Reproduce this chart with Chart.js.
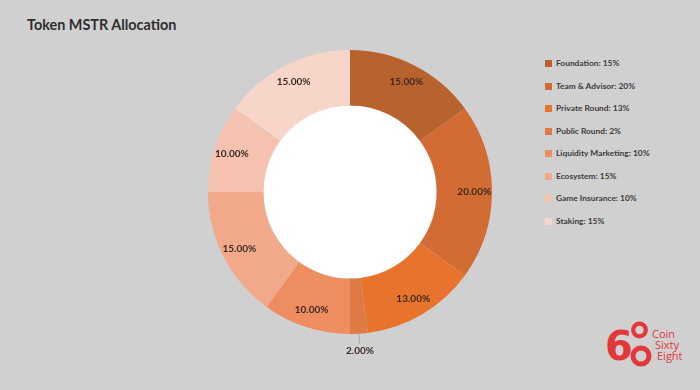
<!DOCTYPE html>
<html>
<head>
<meta charset="utf-8">
<script src="https://cdn.jsdelivr.net/npm/chart.js@4"></script>
<style>
  html, body { margin: 0; padding: 0; }
  body { width: 700px; height: 390px; background: #d1d0d1; position: relative; overflow: hidden; font-family: Lato, "Open Sans", sans-serif; }
  #title { position: absolute; left: 27px; top: 16px; font-size: 14.4px; font-weight: bold; color: #2e2e30; }
  #wrap { position: absolute; left: 180px; top: 22px; width: 340px; height: 340px; }
  #legend { position: absolute; left: 545px; top: 58px; }
  .li { height: 22.5px; display: flex; align-items: flex-start; font-size: 8.4px; font-weight: bold; color: #3c3a3a; }
  .sw { width: 7px; height: 7px; margin-right: 4px; margin-top: 2px; }
  #logo { position: absolute; left: 600px; top: 316px; }
</style>
</head>
<body>
<div id="title">Token MSTR Allocation</div>
<div id="wrap"><canvas id="c" width="340" height="340"></canvas></div>
<div id="legend"></div>
<svg id="logo" width="100" height="60" viewBox="0 0 100 60">
  <text x="5" y="44" font-family="DejaVu Sans, sans-serif" font-weight="bold" font-size="40" fill="#e2383a">6</text>
  <circle cx="39.5" cy="14" r="6.3" fill="none" stroke="#e2383a" stroke-width="4.2"/>
  <circle cx="41" cy="40" r="8" fill="none" stroke="#e2383a" stroke-width="5"/>
  <text x="52" y="22" font-family="Open Sans, sans-serif" font-size="11" fill="#e2383a">Coin</text>
  <text x="55" y="33" font-family="Open Sans, sans-serif" font-size="11" fill="#e2383a">Sixty</text>
  <text x="57" y="44" font-family="Open Sans, sans-serif" font-size="11" fill="#e2383a">Eight</text>
</svg>
<script>
const categories = ["Foundation", "Team & Advisor", "Private Round", "Public Round", "Liquidity Marketing", "Ecosystem", "Game Insurance", "Staking"];
const shares = [15, 20, 13, 2, 10, 15, 10, 15];
const colors = ["#b8622e", "#d36c34", "#e8732c", "#e07a45", "#ee8e60", "#f1a98a", "#f4c2ae", "#f7d5c9"];

const legend = document.getElementById('legend');
categories.forEach((c, i) => {
  const d = document.createElement('div');
  d.className = 'li';
  d.innerHTML = '<span class="sw" style="background:' + colors[i] + '"></span><span>' + c + ': ' + shares[i] + '%</span>';
  legend.appendChild(d);
});

const labelPlugin = {
  id: 'sliceLabels',
  afterDatasetsDraw(chart) {
    const ctx = chart.ctx;
    const meta = chart.getDatasetMeta(0);
    const total = shares.reduce((a, b) => a + b, 0);
    ctx.save();
    ctx.font = 'bold 10px Lato, "Open Sans", sans-serif';
    ctx.fillStyle = '#3a2a22';
    ctx.textAlign = 'center';
    ctx.textBaseline = 'middle';
    meta.data.forEach((arc, i) => {
      const p = arc.getProps(['x', 'y', 'startAngle', 'endAngle', 'outerRadius', 'innerRadius'], true);
      const mid = (p.startAngle + p.endAngle) / 2;
      const pct = shares[i] / total * 100;
      const txt = pct.toFixed(2) + '%';
      if (pct < 5) {
        const r0 = p.outerRadius, r1 = p.outerRadius + 10;
        ctx.strokeStyle = '#9a9a9a';
        ctx.lineWidth = 0.8;
        ctx.beginPath();
        ctx.moveTo(p.x + Math.cos(mid) * r0, p.y + Math.sin(mid) * r0);
        ctx.lineTo(p.x + Math.cos(mid) * r1, p.y + Math.sin(mid) * r1);
        ctx.stroke();
        const r = p.outerRadius + 17;
        ctx.fillText(txt, p.x + Math.cos(mid) * r, p.y + Math.sin(mid) * r);
      } else {
        const r = p.outerRadius * 0.875;
        ctx.fillText(txt, p.x + Math.cos(mid) * r, p.y + Math.sin(mid) * r);
      }
    });
    ctx.restore();
  }
};

new Chart(document.getElementById('c'), {
  type: 'doughnut',
  data: {
    labels: categories,
    datasets: [{
      data: shares,
      backgroundColor: colors,
      borderWidth: 0,
      hoverOffset: 0
    }]
  },
  options: {
    responsive: false,
    animation: false,
    cutout: '61%',
    layout: { padding: 28 },
    plugins: { legend: { display: false }, tooltip: { enabled: false } }
  },
  plugins: [{
    id: 'whiteHole',
    beforeDatasetsDraw(chart) {
      const a = chart.getDatasetMeta(0).data[0];
      if (!a) return;
      const ctx = chart.ctx;
      ctx.save();
      ctx.fillStyle = '#ffffff';
      ctx.beginPath();
      ctx.arc(a.x, a.y, a.innerRadius, 0, Math.PI * 2);
      ctx.fill();
      ctx.restore();
    }
  }, labelPlugin]
});
</script>
</body>
</html>
